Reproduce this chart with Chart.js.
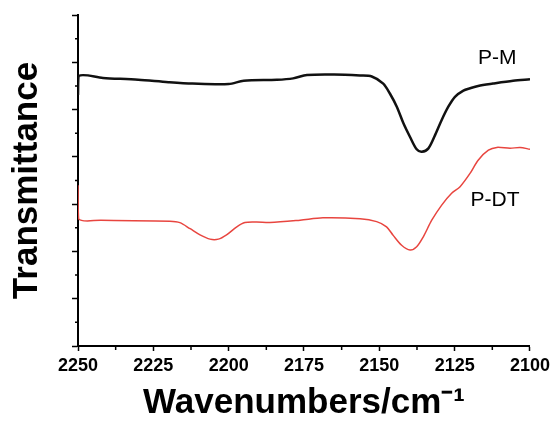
<!DOCTYPE html>
<html>
<head>
<meta charset="utf-8">
<script src="https://cdn.jsdelivr.net/npm/chart.js@4.4.0/dist/chart.umd.min.js"></script>
<style>
  html, body { margin: 0; padding: 0; background: #fff; }
  #wrap { width: 554px; height: 421px; position: relative; }
</style>
</head>
<body>
<div id="wrap"><canvas id="irChart"></canvas></div>
<script>
// P-M spectrum (wavenumber / relative transmittance)
const wavePM = [2250, 2249.8, 2241.7, 2230, 2220, 2212, 2200, 2195, 2184, 2178.6, 2174, 2165, 2156.4, 2152.5, 2148.7, 2146.5, 2144.2, 2142.0, 2139.8, 2137.6, 2135.9, 2133.7, 2131.5, 2129.3, 2127.1, 2124.9, 2122.1, 2119.9, 2117.2, 2112.3, 2105.6, 2100];
const valuesPM = [5.31, 5.71, 5.67, 5.63, 5.58, 5.55, 5.54, 5.61, 5.63, 5.66, 5.73, 5.74, 5.72, 5.70, 5.55, 5.34, 5.06, 4.71, 4.42, 4.16, 4.11, 4.18, 4.46, 4.78, 5.06, 5.27, 5.40, 5.45, 5.50, 5.55, 5.61, 5.64];

// P-DT spectrum
const waveDT = [2250, 2249.8, 2242.4, 2219.5, 2216.2, 2212.8, 2209.5, 2206.2, 2203.4, 2200.7, 2197.3, 2194.6, 2190.7, 2186.3, 2176.3, 2168.7, 2156.4, 2150.9, 2147.6, 2145.4, 2142.6, 2139.8, 2137.6, 2135.4, 2132.6, 2129.3, 2126.0, 2123.2, 2119.9, 2117.2, 2113.8, 2111.0, 2106.6, 2103.3, 2100];
const valuesDT = [3.40, 2.69, 2.66, 2.64, 2.61, 2.48, 2.35, 2.26, 2.26, 2.35, 2.52, 2.61, 2.62, 2.61, 2.66, 2.71, 2.69, 2.63, 2.52, 2.34, 2.13, 2.03, 2.10, 2.31, 2.66, 2.98, 3.23, 3.37, 3.65, 3.93, 4.14, 4.20, 4.18, 4.20, 4.16];

// curve labels
const seriesNames = ['P-M', 'P-DT'];
const labelPos = [[2110.9, 6.09], [2111.6, 3.09]];

const FONT = '"Liberation Sans", Arial, sans-serif';

// minor tick marks + curve names
const extras = {
    id: 'extras',
    afterDraw(chart) {
        const ctx = chart.ctx;
        const xs = chart.scales.x, ys = chart.scales.y;
        ctx.save();
        ctx.strokeStyle = '#000';
        ctx.lineWidth = 1.5;
        ctx.beginPath();
        for (let v = 2112.5; v < 2250; v += 25) {
            const px = xs.getPixelForValue(v);
            ctx.moveTo(px, xs.top);
            ctx.lineTo(px, xs.top + 4);
        }
        for (let v = 0.5; v < 7; v += 1) {
            const py = ys.getPixelForValue(v);
            ctx.moveTo(ys.right, py);
            ctx.lineTo(ys.right - 3, py);
        }
        ctx.stroke();

        ctx.fillStyle = '#000';
        ctx.font = '21px ' + FONT;
        ctx.textAlign = 'center';
        ctx.textBaseline = 'middle';
        seriesNames.forEach((name, i) => {
            ctx.fillText(name, xs.getPixelForValue(labelPos[i][0]), ys.getPixelForValue(labelPos[i][1]));
        });
        ctx.restore();
    }
};

const data = {
    datasets: [{
        label: 'P-M',
        data: wavePM.map((w, i) => ({ x: w, y: valuesPM[i] })),
        borderColor: '#111',
        borderWidth: 2.5,
        pointRadius: 0,
        tension: 0.3
    }, {
        label: 'P-DT',
        data: waveDT.map((w, i) => ({ x: w, y: valuesDT[i] })),
        borderColor: '#e8453f',
        borderWidth: 1.5,
        pointRadius: 0,
        tension: 0.3
    }]
};

new Chart(document.getElementById('irChart'), {
    type: 'line',
    data: data,
    options: {
        responsive: true,
        maintainAspectRatio: false,
        animation: false,
        layout: { padding: { top: 15, right: 24, left: 0, bottom: 0 } },
        plugins: {
            legend: { display: false },
            tooltip: { enabled: false }
        },
        scales: {
            x: {
                type: 'linear',
                reverse: true,
                min: 2100,
                max: 2250,
                afterFit: s => { s.height = 75; },
                border: { display: true, color: '#000', width: 2 },
                grid: { drawOnChartArea: false, drawTicks: true, tickLength: 5, color: '#000', tickWidth: 1.5 },
                ticks: {
                    stepSize: 25,
                    maxRotation: 0,
                    padding: 4,
                    color: '#000',
                    font: { family: FONT, size: 18, weight: 'bold' },
                    callback: v => String(v)
                },
                title: {
                    display: true,
                    text: 'Wavenumbers/cm⁻¹',
                    color: '#000',
                    padding: 0,
                    font: { family: FONT, size: 35, weight: 'bold', lineHeight: 1 }
                }
            },
            y: {
                min: 0,
                max: 7,
                afterFit: s => { s.width = 78; },
                border: { display: true, color: '#000', width: 2 },
                grid: { drawOnChartArea: false, drawTicks: true, tickLength: 6, color: '#000', tickWidth: 1.5 },
                ticks: { stepSize: 1, display: false },
                title: {
                    display: true,
                    text: 'Transmittance',
                    color: '#000',
                    padding: { top: 6, bottom: 0 },
                    font: { family: FONT, size: 35, weight: 'bold', lineHeight: 1.2 }
                }
            }
        }
    },
    plugins: [extras]
});
</script>
</body>
</html>
